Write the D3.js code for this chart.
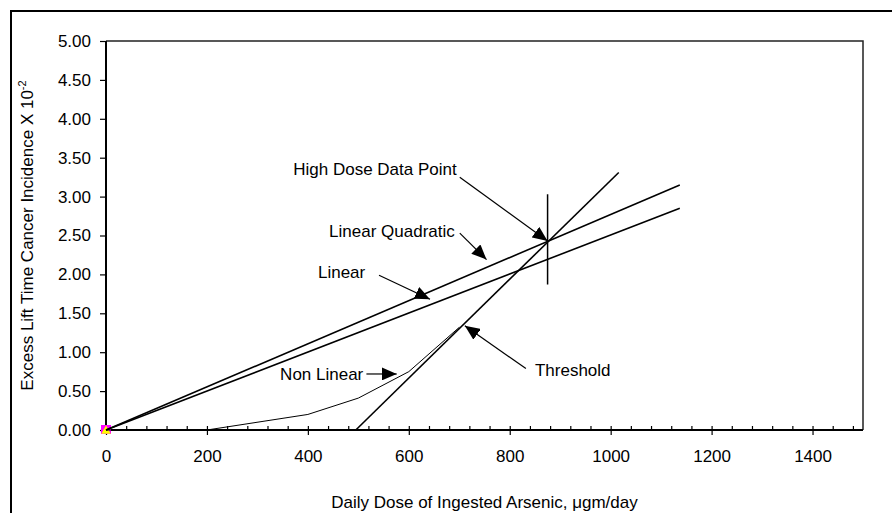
<!DOCTYPE html>
<html><head><meta charset="utf-8">
<script src="https://cdn.jsdelivr.net/npm/d3@7/dist/d3.min.js"></script>
<style>
html,body{margin:0;padding:0;background:#fff;}
svg{display:block;font-family:"Liberation Sans",Arial,sans-serif;}
</style></head>
<body>
<svg id="chart" width="892" height="513"></svg>
<script>
// ---- data ----
const xTicks = [0, 200, 400, 600, 800, 1000, 1200, 1400];
const yTicks = [0, 0.5, 1.0, 1.5, 2.0, 2.5, 3.0, 3.5, 4.0, 4.5, 5.0];
const linearQuadratic = [[0, 0], [1137, 3.15]];
const linear = [[0, 0], [1137, 2.85]];
const threshold = [[495, 0], [1016, 3.31]];
const nonLinear = [[0, 0], [200, 0], [400, 0.2], [500, 0.41], [600, 0.75], [700, 1.32]];
const highDose = {x: 875, y: 2.42, lo: 1.87, hi: 3.03};
const origin = [[0, 0]];
const labels = [
  {text: "High Dose Data Point", x: 371, y: 3.28, from: [701, 3.25], to: [875, 2.43]},
  {text: "Linear Quadratic", x: 442, y: 2.48, from: [701, 2.53], to: [754, 2.19]},
  {text: "Linear", x: 420, y: 1.96, from: [541, 1.99], to: [642, 1.68]},
  {text: "Non Linear", x: 345, y: 0.64, from: [516, 0.72], to: [576, 0.72]},
  {text: "Threshold", x: 850, y: 0.69, from: [832, 0.79], to: [711, 1.34]}
];
const xTitle = "Daily Dose of Ingested Arsenic, \u03bcgm/day";
const yTitle = "Excess Lift Time Cancer Incidence X 10";
const yTitleSup = "-2";

// ---- layout ----
const svg = d3.select("#chart");
const L = 106, R = 863, T = 41, B = 430;
const x = d3.scaleLinear().domain([0, 1500]).range([L, R]);
const y = d3.scaleLinear().domain([0, 5]).range([B, T]);
const FS = 17;

// outer frame (left & top)
svg.append("path").attr("d", "M11,513 V11 H892").attr("fill", "none")
  .attr("stroke", "#000").attr("stroke-width", 2);

// plot box top/right
svg.append("path").attr("d", `M${L},${T} H${R} V${B}`).attr("fill", "none")
  .attr("stroke", "#222").attr("stroke-width", 1.5);

const defs = svg.append("defs");
defs.append("marker").attr("id", "ah").attr("viewBox", "0 0 15 13")
  .attr("refX", 15).attr("refY", 6.5).attr("markerWidth", 15).attr("markerHeight", 13)
  .attr("markerUnits", "userSpaceOnUse").attr("orient", "auto")
  .append("path").attr("d", "M0,0 L15,6.5 L0,13 Z").attr("fill", "#000");

// axes
const gx = svg.append("g").attr("transform", `translate(0,${B})`)
  .call(d3.axisBottom(x).tickValues(xTicks).tickSize(5).tickPadding(15).tickFormat(d3.format("d")));
const minor = d3.range(0, 1500, 40);
svg.append("g").attr("transform", `translate(0,${B})`)
  .call(d3.axisBottom(x).tickValues(minor).tickSize(-4).tickFormat(""))
  .call(g => g.select(".domain").remove());
const gy = svg.append("g").attr("transform", `translate(${L},0)`)
  .call(d3.axisLeft(y).tickValues(yTicks).tickSize(6).tickPadding(9).tickFormat(d3.format(".2f")));
svg.selectAll(".tick line").attr("stroke", "#000").attr("stroke-width", 1.2);
svg.selectAll(".domain").attr("stroke", "#000").attr("stroke-width", 2);
gx.select(".domain").attr("d", `M${L},0H${R}`);
gy.select(".domain").attr("d", `M0,${B}V${T}`);
svg.selectAll(".tick text").attr("font-size", FS).attr("fill", "#000")
  .attr("font-family", '"Liberation Sans",Arial,sans-serif');

// origin markers (over axes, under lines)
origin.forEach(d => {
  svg.append("rect").attr("x", x(d[0]) - 5).attr("y", y(d[1]) - 5)
    .attr("width", 10).attr("height", 9).attr("fill", "#ff00ff");
  svg.append("path").attr("d", d3.symbol(d3.symbolTriangle, 40)())
    .attr("transform", `translate(${x(d[0])},${y(d[1]) + 1})`).attr("fill", "#ffff00");
});

// lines
const line = d3.line().x(d => x(d[0])).y(d => y(d[1]));
[[linearQuadratic, 1.6], [linear, 1.6], [threshold, 1.6], [nonLinear, 1]].forEach(([d, w]) => {
  svg.append("path").datum(d).attr("d", line).attr("fill", "none")
    .attr("stroke", "#000").attr("stroke-width", w);
});

// high dose error bar
svg.append("line").attr("x1", x(highDose.x)).attr("x2", x(highDose.x))
  .attr("y1", y(highDose.lo)).attr("y2", y(highDose.hi))
  .attr("stroke", "#000").attr("stroke-width", 1.5);

// annotations
labels.forEach(a => {
  svg.append("text").attr("x", x(a.x)).attr("y", y(a.y)).attr("font-size", FS)
    .attr("fill", "#000").text(a.text);
  svg.append("line").attr("x1", x(a.from[0])).attr("y1", y(a.from[1]))
    .attr("x2", x(a.to[0])).attr("y2", y(a.to[1]))
    .attr("stroke", "#000").attr("stroke-width", 1.2).attr("marker-end", "url(#ah)");
});

// titles
svg.append("text").attr("x", (L + R) / 2).attr("y", 508).attr("text-anchor", "middle")
  .attr("font-size", FS).attr("fill", "#000").text(xTitle);
const yt = svg.append("text").attr("transform", `translate(33,${(T + B) / 2}) rotate(-90)`)
  .attr("text-anchor", "middle").attr("font-size", FS).attr("fill", "#000");
yt.append("tspan").text(yTitle);
yt.append("tspan").attr("dy", -7).attr("font-size", 11).text(yTitleSup);
</script>
</body></html>
